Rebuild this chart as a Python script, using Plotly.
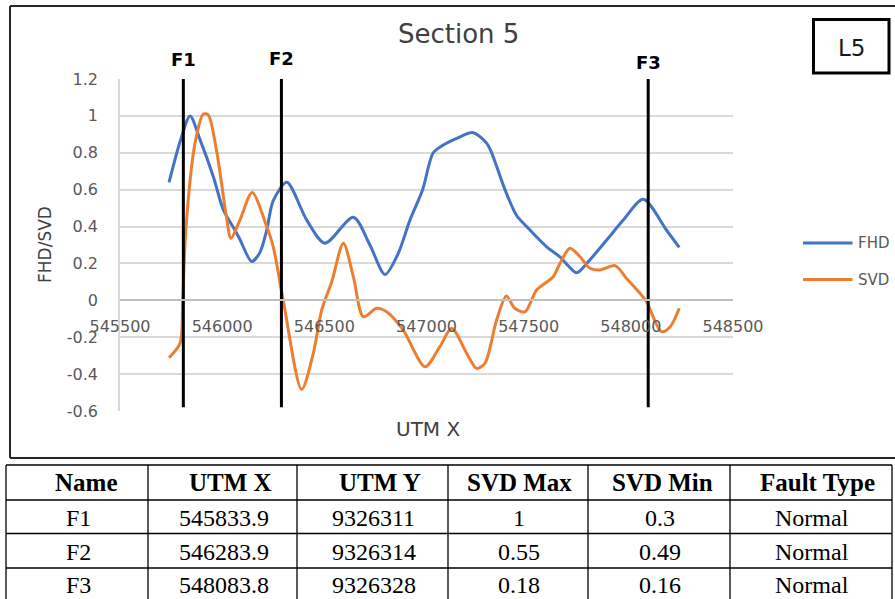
import plotly.graph_objects as go

# ---------------- data ----------------
fhd_x = [545740, 545794, 545843, 545892, 545957, 546006, 546063, 546087, 546145,
         546185, 546218, 546250, 546316, 546414, 546503, 546642, 546723, 546797,
         546860, 546919, 546981, 547033, 547082, 547148, 547229, 547295, 547319,
         547384, 547441, 547490, 547588, 547653, 547735, 547784, 547882, 547963,
         548061, 548175, 548237]
fhd_y = [0.64, 0.86, 1.00, 0.87, 0.67, 0.49, 0.38, 0.33, 0.21,
         0.26, 0.38, 0.54, 0.64, 0.435, 0.31, 0.45, 0.30, 0.14,
         0.25, 0.435, 0.60, 0.80, 0.842, 0.878, 0.909, 0.851, 0.80,
         0.60, 0.46, 0.40, 0.29, 0.236, 0.15, 0.20, 0.327, 0.435,
         0.548, 0.38, 0.287]

svd_x = [545740, 545794, 545807, 545822, 545867, 545908, 545932, 545972, 546021,
         546043, 546087, 546147, 546218, 546250, 546299, 546389, 546446, 546487,
         546536, 546593, 546642, 546691, 546756, 546805, 546886, 546993, 547066,
         547123, 547197, 547245, 547286, 547343, 547391, 547432, 547482, 547539,
         547620, 547653, 547702, 547751, 547800, 547849, 547923, 547979, 548045,
         548077, 548150, 548193, 548237]
svd_y = [-0.311, -0.233, 0.0, 0.38, 0.85, 1.01, 1.005, 0.815, 0.453,
         0.336, 0.435, 0.584, 0.40, 0.29, 0.0, -0.483, -0.288, -0.053,
         0.10, 0.309, 0.128, -0.089, -0.043, -0.062, -0.161, -0.36, -0.25,
         -0.152, -0.288, -0.369, -0.342, -0.107, 0.023, -0.043, -0.062, 0.056,
         0.128, 0.20, 0.282, 0.236, 0.174, 0.164, 0.188, 0.119, 0.038,
         -0.008, -0.17, -0.143, -0.043]

fault_names = ["F1", "F2", "F3"]
fault_line_x = [545810, 546290, 548085]
fault_line_top = 1.2
fault_line_bottom = -0.58

x_ticks = [545500, 546000, 546500, 547000, 547500, 548000, 548500]
y_ticks = [-0.6, -0.4, -0.2, 0, 0.2, 0.4, 0.6, 0.8, 1, 1.2]
y_tick_text = ["-0.6", "-0.4", "-0.2", "0", "0.2", "0.4", "0.6", "0.8", "1", "1.2"]

table_header = ["Name", "UTM X", "UTM Y", "SVD Max", "SVD Min", "Fault Type"]
table_name = ["F1", "F2", "F3"]
table_utm_x = [545833.9, 546283.9, 548083.8]
table_utm_y = [9326311, 9326314, 9326328]
table_svd_max = [1, 0.55, 0.18]
table_svd_min = [0.3, 0.49, 0.16]
table_fault_type = ["Normal", "Normal", "Normal"]

# ---------------- layout helpers ----------------
W, H = 895, 599
def px(x):
    return x / W
def py(y):
    return 1 - y / H

BLUE = "#4472C4"
ORANGE = "#ED7D31"
GRID = "#d9d9d9"
TXT = "#595959"

plot_l, plot_r, plot_t, plot_b = 120, 733, 79, 411
ymin, ymax = -0.6, 1.2
ydom = [py(plot_b), py(plot_t)]
zero_pos = ydom[0] + (0 - ymin) / (ymax - ymin) * (ydom[1] - ydom[0])

fig = go.Figure()
fig.add_trace(go.Scatter(x=fhd_x, y=fhd_y, mode="lines", name="FHD",
                         line=dict(color=BLUE, width=3, shape="spline", smoothing=0.8),
                         showlegend=False))
fig.add_trace(go.Scatter(x=svd_x, y=svd_y, mode="lines", name="SVD",
                         line=dict(color=ORANGE, width=3, shape="spline", smoothing=0.8),
                         showlegend=False))
for fx in fault_line_x:
    fig.add_trace(go.Scatter(x=[fx, fx], y=[fault_line_top, fault_line_bottom], mode="lines",
                             line=dict(color="black", width=3), showlegend=False,
                             hoverinfo="skip"))

annotations = []
shapes = []

# fault labels
fault_label_y = [59.5, 58.5, 62.5]
for name, fx, ly in zip(fault_names, fault_line_x, fault_label_y):
    annotations.append(dict(x=fx, xref="x", y=py(ly), yref="paper", text="<b>%s</b>" % name,
                            showarrow=False, xanchor="center", yanchor="middle",
                            font=dict(family="DejaVu Sans", size=18, color="black")))

# title
annotations.append(dict(x=px(458.5), y=py(34), xref="paper", yref="paper", text="Section 5",
                        showarrow=False, xanchor="center", yanchor="middle",
                        font=dict(family="DejaVu Sans", size=26, color="#404040")))
# axis titles
annotations.append(dict(x=px(427.5), y=py(428.5), xref="paper", yref="paper", text="UTM X",
                        showarrow=False, xanchor="center", yanchor="middle",
                        font=dict(family="DejaVu Sans", size=20, color="#404040")))
annotations.append(dict(x=px(45), y=py(245), xref="paper", yref="paper", text="FHD/SVD",
                        showarrow=False, xanchor="center", yanchor="middle", textangle=-90,
                        font=dict(family="DejaVu Sans", size=17, color="#404040")))
# L5 box
shapes.append(dict(type="rect", xref="paper", yref="paper", x0=px(813.5), x1=px(889),
                   y0=py(73), y1=py(19.5), line=dict(color="black", width=3)))
annotations.append(dict(x=px(851), y=py(47.5), xref="paper", yref="paper", text="L5",
                        showarrow=False, xanchor="center", yanchor="middle",
                        font=dict(family="DejaVu Sans", size=23, color="#1a1a1a")))
# legend (manual)
for lbl, col, ly in [("FHD", BLUE, 243), ("SVD", ORANGE, 279.5)]:
    shapes.append(dict(type="line", xref="paper", yref="paper", x0=px(803), x1=px(852.5),
                       y0=py(ly), y1=py(ly), line=dict(color=col, width=3)))
    annotations.append(dict(x=px(856), y=py(ly), xref="paper", yref="paper", text=lbl,
                            showarrow=False, xanchor="left", yanchor="middle",
                            font=dict(family="DejaVu Sans", size=15, color=TXT)))
# outer chart frame
for x0, y0, x1, y1 in [(10, 6, 900, 6), (10, 6, 10, 458), (10, 458, 900, 458)]:
    shapes.append(dict(type="line", xref="paper", yref="paper", x0=px(x0), x1=px(x1),
                       y0=py(y0), y1=py(y1), line=dict(color="#262626", width=2)))

# table
col_edges = [6, 148, 297, 448, 588, 730, 892]
row_edges = [465, 500, 533.5, 568, 603]
for ye in row_edges[:-1]:
    shapes.append(dict(type="line", xref="paper", yref="paper", x0=px(col_edges[0]),
                       x1=px(col_edges[-1]), y0=py(ye), y1=py(ye),
                       line=dict(color="black", width=1.3)))
for xe in col_edges:
    shapes.append(dict(type="line", xref="paper", yref="paper", x0=px(xe), x1=px(xe),
                       y0=py(row_edges[0]), y1=py(row_edges[-1]),
                       line=dict(color="black", width=1.3)))
header_offsets = [9, 8, 7, 1, 3, 6]
rows = [table_name,
        ["%.1f" % v for v in table_utm_x],
        [str(v) for v in table_utm_y],
        [("%g" % v) for v in table_svd_max],
        [("%g" % v) for v in table_svd_min],
        table_fault_type]
for ci, hdr in enumerate(table_header):
    cx = (col_edges[ci] + col_edges[ci + 1]) / 2
    annotations.append(dict(x=px(cx + header_offsets[ci]), y=py(482), xref="paper", yref="paper",
                            text="<b>%s</b>" % hdr, showarrow=False, xanchor="center",
                            yanchor="middle",
                            font=dict(family="Liberation Serif", size=25, color="black")))
    for ri, val in enumerate(rows[ci]):
        cy = [518, 551.5, 585][ri]
        annotations.append(dict(x=px(cx + 1), y=py(cy), xref="paper", yref="paper",
                                text=val, showarrow=False, xanchor="center", yanchor="middle",
                                font=dict(family="Liberation Serif", size=24, color="black")))

fig.update_layout(
    width=W, height=H, margin=dict(l=0, r=0, t=0, b=0, autoexpand=False),
    paper_bgcolor="white", plot_bgcolor="white",
    showlegend=False,
    xaxis=dict(domain=[px(plot_l), px(plot_r)], range=[545500, 548500],
               tickvals=x_ticks, ticktext=[str(v) for v in x_ticks],
               anchor="free", position=zero_pos, automargin=False,
               showgrid=False, zeroline=False, showline=True, linecolor="#bfbfbf", linewidth=1.5,
               ticks="outside", ticklen=12, tickcolor="rgba(0,0,0,0)",
               tickfont=dict(family="DejaVu Sans", size=16, color=TXT)),
    yaxis=dict(domain=ydom, range=[ymin, ymax], tickvals=y_ticks, ticktext=y_tick_text,
               automargin=False,
               showgrid=True, gridcolor=GRID, gridwidth=1.5,
               zeroline=True, zerolinecolor="#bfbfbf", zerolinewidth=1.5,
               showline=True, linecolor=GRID, linewidth=1.5,
               ticks="outside", ticklen=17, tickcolor="rgba(0,0,0,0)",
               tickfont=dict(family="DejaVu Sans", size=16, color=TXT)),
    annotations=annotations, shapes=shapes,
)

fig.write_html("out.html")
